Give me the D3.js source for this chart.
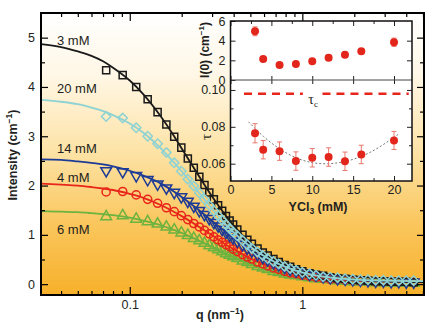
<!DOCTYPE html>
<html>
<head>
<meta charset="utf-8">
<script src="https://cdn.jsdelivr.net/npm/d3@7"></script>
<style>
  body { margin: 0; background: #fff; }
  svg { display: block; font-family: "Liberation Sans", Arial, sans-serif; }
</style>
</head>
<body>
<div id="chart"></div>
<script>
// measured q grid of the scattering curves (nm^-1)
const qMarks = [0.073, 0.091, 0.109, 0.127, 0.145, 0.163, 0.181, 0.199, 0.217, 0.235,
  0.253, 0.271, 0.289, 0.307, 0.325, 0.343, 0.361, 0.379, 0.397, 0.42, 0.45, 0.48,
  0.51, 0.55, 0.59, 0.63, 0.68, 0.73, 0.79, 0.85, 0.92, 1.0, 1.1, 1.2, 1.32, 1.45,
  1.6, 1.77, 1.96, 2.17, 2.4, 2.66, 2.95, 3.27, 3.62, 4.0, 4.42];

const i3mM = [4.34, 4.24, 4.0, 3.75, 3.49, 3.24, 2.99, 2.77, 2.55, 2.36, 2.18, 2.01,
  1.86, 1.72, 1.6, 1.49, 1.38, 1.29, 1.21, 1.11, 1.0, 0.9, 0.82, 0.72, 0.64, 0.58,
  0.51, 0.45, 0.39, 0.35, 0.3, 0.26, 0.22, 0.19, 0.17, 0.14, 0.12, 0.11, 0.09, 0.08,
  0.07, 0.06, 0.06, 0.05, 0.05, 0.05, 0.04];
const i20mM = [3.4, 3.37, 3.17, 3.0, 2.85, 2.67, 2.46, 2.29, 2.13, 1.99, 1.85, 1.72,
  1.6, 1.49, 1.39, 1.3, 1.21, 1.13, 1.06, 0.98, 0.89, 0.8, 0.73, 0.65, 0.58, 0.52,
  0.46, 0.41, 0.36, 0.32, 0.28, 0.24, 0.21, 0.18, 0.15, 0.14, 0.13, 0.11, 0.1, 0.09,
  0.09, 0.08, 0.08, 0.07, 0.07, 0.07, 0.07];
const i14mM = [2.3, 2.28, 2.2, 2.12, 2.03, 1.95, 1.86, 1.77, 1.68, 1.58, 1.49, 1.41,
  1.33, 1.25, 1.18, 1.11, 1.05, 0.99, 0.94, 0.87, 0.8, 0.73, 0.67, 0.6, 0.54, 0.49,
  0.43, 0.39, 0.34, 0.3, 0.27, 0.23, 0.2, 0.18, 0.15, 0.13, 0.11, 0.1, 0.09, 0.08,
  0.07, 0.06, 0.06, 0.05, 0.05, 0.04, 0.04];
const i4mM = [1.87, 1.88, 1.81, 1.72, 1.64, 1.55, 1.47, 1.39, 1.31, 1.23, 1.16, 1.09,
  1.02, 0.96, 0.9, 0.85, 0.8, 0.76, 0.71, 0.66, 0.6, 0.55, 0.51, 0.45, 0.41, 0.37,
  0.33, 0.3, 0.26, 0.23, 0.21, 0.18, 0.16, 0.14, 0.12, 0.1, 0.09, 0.08, 0.07, 0.06,
  0.06, 0.05, 0.05, 0.05, 0.04, 0.04, 0.04];
const i6mM = [1.37, 1.39, 1.32, 1.27, 1.22, 1.16, 1.1, 1.04, 0.99, 0.93, 0.88, 0.83,
  0.78, 0.74, 0.7, 0.66, 0.62, 0.59, 0.56, 0.52, 0.47, 0.44, 0.4, 0.36, 0.33, 0.3,
  0.26, 0.24, 0.21, 0.19, 0.17, 0.15, 0.13, 0.11, 0.1, 0.09, 0.07, 0.06, 0.05, 0.04,
  0.04, 0.03, 0.03, 0.03, 0.02, 0.02, 0.02];

// fitted curves
const qFit = [0.0306, 0.04, 0.05, 0.06, 0.07, 0.08, 0.1, 0.12, 0.15, 0.18, 0.2, 0.25,
  0.3, 0.35, 0.4, 0.5, 0.6, 0.7, 0.8, 1.0, 1.2, 1.5, 2, 3, 5.07];
const f3mM = [4.87, 4.81, 4.72, 4.63, 4.52, 4.39, 4.13, 3.85, 3.42, 3.01, 2.75, 2.21,
  1.78, 1.45, 1.19, 0.84, 0.62, 0.48, 0.38, 0.26, 0.19, 0.14, 0.09, 0.06, 0.04];
const f20mM = [3.74, 3.7, 3.65, 3.58, 3.51, 3.43, 3.26, 3.07, 2.77, 2.47, 2.29, 1.87,
  1.53, 1.26, 1.05, 0.76, 0.57, 0.44, 0.35, 0.24, 0.18, 0.13, 0.09, 0.07, 0.06];
const f14mM = [2.53, 2.52, 2.49, 2.46, 2.43, 2.39, 2.3, 2.2, 2.05, 1.88, 1.77, 1.51,
  1.28, 1.09, 0.93, 0.69, 0.53, 0.42, 0.34, 0.23, 0.18, 0.13, 0.08, 0.055, 0.04];
const f4mM = [2.04, 2.02, 2.0, 1.97, 1.94, 1.91, 1.83, 1.75, 1.61, 1.47, 1.38, 1.17,
  0.99, 0.83, 0.71, 0.52, 0.4, 0.32, 0.26, 0.18, 0.14, 0.1, 0.07, 0.05, 0.036];
const f6mM = [1.48, 1.47, 1.46, 1.44, 1.42, 1.4, 1.35, 1.29, 1.2, 1.1, 1.04, 0.89,
  0.76, 0.64, 0.55, 0.41, 0.32, 0.25, 0.21, 0.15, 0.11, 0.085, 0.06, 0.044, 0.035];

const seriesLabels = ["6 mM", "4 mM", "14 mM", "3 mM", "20 mM"];

// inset
const conc = [3, 4, 6, 8, 10, 12, 14, 16, 20];
const i0 = [4.95, 2.14, 1.53, 1.63, 1.9, 2.27, 2.57, 2.92, 3.84];
const i0Err = [0.45, 0.15, 0.12, 0.12, 0.12, 0.12, 0.12, 0.15, 0.42];
const tau = [0.0765, 0.0676, 0.0668, 0.0614, 0.0632, 0.0636, 0.0613, 0.065, 0.0726];
const tauErr = [0.0052, 0.005, 0.005, 0.005, 0.005, 0.005, 0.005, 0.005, 0.0049];
const tauC = 0.098;
const tauFitX = [2.2, 4, 6, 8, 10, 12, 14, 16, 18, 20.6];
const tauFitY = [0.0827, 0.0746, 0.0677, 0.0629, 0.0602, 0.0597, 0.0609, 0.0637, 0.0681, 0.0762];

const xMajor = [0.1, 1];
const xMinor = [0.04, 0.05, 0.06, 0.07, 0.08, 0.09, 0.2, 0.3, 0.4, 0.5, 0.6, 0.7, 0.8, 0.9, 2, 3, 4, 5];
const yMajor = [0, 1, 2, 3, 4, 5];
const yMinor = [0.5, 1.5, 2.5, 3.5, 4.5];

const width = 436, height = 328;
const area = { left: 41, right: 424, top: 13, bottom: 295 };

const svg = d3.select("#chart").append("svg")
  .attr("width", width).attr("height", height);

const defs = svg.append("defs");
const grad = defs.append("linearGradient").attr("id", "bg")
  .attr("gradientUnits", "userSpaceOnUse")
  .attr("x1", 0).attr("x2", 0).attr("y1", area.top).attr("y2", area.bottom);
[[0, "#ffffff"], [0.22, "#fff7e6"], [0.5, "#fde2a4"], [0.75, "#fac65c"], [1, "#f7b02a"]]
  .forEach(([o, c]) => grad.append("stop").attr("offset", o).attr("stop-color", c));

defs.append("clipPath").attr("id", "clip").append("rect")
  .attr("x", area.left).attr("y", area.top)
  .attr("width", area.right - area.left).attr("height", area.bottom - area.top);

svg.append("rect")
  .attr("x", area.left).attr("y", area.top)
  .attr("width", area.right - area.left).attr("height", area.bottom - area.top)
  .attr("fill", "url(#bg)");

const x = d3.scaleLog().domain([0.0306, 5.07]).range([area.left, area.right]);
const y = d3.scaleLinear().domain([-0.22, 5.5]).range([area.bottom, area.top]);

// series, drawn bottom to top
const series = [
  { label: seriesLabels[0], marks: i6mM, fit: f6mM, color: "#6cb33f", shape: "triUp" },
  { label: seriesLabels[1], marks: i4mM, fit: f4mM, color: "#e8251b", shape: "circle" },
  { label: seriesLabels[2], marks: i14mM, fit: f14mM, color: "#1d3b96", shape: "triDown" },
  { label: seriesLabels[3], marks: i3mM, fit: f3mM, color: "#1a1a1a", shape: "square" },
  { label: seriesLabels[4], marks: i20mM, fit: f20mM, color: "#8ed2d4", shape: "diamond" },
];

const shapes = {
  square: { type: d3.symbolSquare, size: 50, rot: 0 },
  diamond: { type: d3.symbolSquare, size: 44, rot: 45 },
  circle: { type: d3.symbolCircle, size: 52, rot: 0 },
  triUp: { type: d3.symbolTriangle, size: 50, rot: 0 },
  triDown: { type: d3.symbolTriangle, size: 50, rot: 180 },
};

const plot = svg.append("g").attr("clip-path", "url(#clip)");
const line = d3.line().x((d) => x(d[0])).y((d) => y(d[1])).curve(d3.curveMonotoneX);

series.forEach((s) => {
  const sh = shapes[s.shape];
  const sym = d3.symbol().type(sh.type).size(sh.size);
  plot.append("g").selectAll("path")
    .data(qMarks.map((q, i) => [q, s.marks[i]]))
    .join("path")
    .attr("d", sym)
    .attr("transform", (d) => `translate(${x(d[0])},${y(d[1])}) rotate(${sh.rot})`)
    .attr("fill", "none")
    .attr("stroke", s.color)
    .attr("stroke-width", 1.5);
  plot.append("path")
    .datum(qFit.map((q, i) => [q, s.fit[i]]))
    .attr("d", line)
    .attr("fill", "none")
    .attr("stroke", s.color)
    .attr("stroke-width", 1.8);
});

// series labels
const labelY = { "3 mM": 4.95, "20 mM": 3.97, "14 mM": 2.76, "4 mM": 2.17, "6 mM": 1.1 };
svg.append("g").selectAll("text")
  .data(seriesLabels)
  .join("text")
  .attr("x", 57)
  .attr("y", (d) => y(labelY[d]))
  .attr("dy", "0.35em")
  .attr("font-size", 13)
  .attr("fill", "#231f20")
  .text((d) => d);

// axes, ticks inward
function styleAxis(g) {
  g.select(".domain").remove();
  g.selectAll("line").attr("stroke", "#000").attr("stroke-width", 1.2);
  g.selectAll("text").attr("font-size", 12.5).attr("fill", "#231f20")
    .attr("font-family", "Liberation Sans, Arial, sans-serif");
}
svg.append("g").attr("transform", `translate(0,${area.bottom})`)
  .call(d3.axisBottom(x).tickValues(xMajor).tickSize(-8).tickPadding(5).tickFormat(d3.format("")))
  .call(styleAxis);
svg.append("g").attr("transform", `translate(0,${area.bottom})`)
  .call(d3.axisBottom(x).tickValues(xMinor).tickSize(-4).tickFormat(""))
  .call(styleAxis);
svg.append("g").attr("transform", `translate(0,${area.top})`)
  .call(d3.axisTop(x).tickValues(xMajor).tickSize(-8).tickFormat(""))
  .call(styleAxis);
svg.append("g").attr("transform", `translate(0,${area.top})`)
  .call(d3.axisTop(x).tickValues(xMinor).tickSize(-4).tickFormat(""))
  .call(styleAxis);
svg.append("g").attr("transform", `translate(${area.left},0)`)
  .call(d3.axisLeft(y).tickValues(yMajor).tickSize(-7).tickPadding(6).tickFormat(d3.format("d")))
  .call(styleAxis);
svg.append("g").attr("transform", `translate(${area.left},0)`)
  .call(d3.axisLeft(y).tickValues(yMinor).tickSize(-4).tickFormat(""))
  .call(styleAxis);
svg.append("g").attr("transform", `translate(${area.right},0)`)
  .call(d3.axisRight(y).tickValues(yMajor).tickSize(-7).tickFormat(""))
  .call(styleAxis);
svg.append("g").attr("transform", `translate(${area.right},0)`)
  .call(d3.axisRight(y).tickValues(yMinor).tickSize(-4).tickFormat(""))
  .call(styleAxis);

svg.append("rect")
  .attr("x", area.left).attr("y", area.top)
  .attr("width", area.right - area.left).attr("height", area.bottom - area.top)
  .attr("fill", "none").attr("stroke", "#000").attr("stroke-width", 2);

// axis titles
const xt = svg.append("text").attr("x", 220).attr("y", 319)
  .attr("text-anchor", "middle").attr("font-size", 12.5).attr("font-weight", "bold")
  .attr("fill", "#231f20");
xt.append("tspan").text("q (nm");
xt.append("tspan").attr("dy", -5).attr("font-size", 8.5).text("\u22121");
xt.append("tspan").attr("dy", 5).text(")");

const yt = svg.append("text").attr("transform", "translate(17,155) rotate(-90)")
  .attr("text-anchor", "middle").attr("font-size", 12.5).attr("font-weight", "bold")
  .attr("fill", "#231f20");
yt.append("tspan").text("Intensity (cm");
yt.append("tspan").attr("dy", -5).attr("font-size", 8.5).text("\u22121");
yt.append("tspan").attr("dy", 5).text(")");

// ---------- inset ----------
const ins = { left: 230.5, right: 412, top: 21, mid: 80, bottom: 181 };
const ix = d3.scaleLinear().domain([0, 22.2]).range([ins.left, ins.right]);
const iyTop = d3.scaleLinear().domain([0, 6]).range([ins.mid, ins.top]);
const iyBot = d3.scaleLinear().domain([0.0506, 0.1054]).range([ins.bottom, ins.mid]);

const inset = svg.append("g");
inset.append("rect")
  .attr("x", ins.left).attr("y", ins.top)
  .attr("width", ins.right - ins.left).attr("height", ins.bottom - ins.top)
  .attr("fill", "#fff");

function insetAxis(g) {
  g.select(".domain").remove();
  g.selectAll("line").attr("stroke", "#222").attr("stroke-width", 1);
  g.selectAll("text").attr("font-size", 12.5).attr("fill", "#231f20")
    .attr("font-family", "Liberation Sans, Arial, sans-serif");
}
const ixMajor = [0, 5, 10, 15, 20];
const ixMinor = [2.5, 7.5, 12.5, 17.5];
inset.append("g").attr("transform", `translate(0,${ins.bottom})`)
  .call(d3.axisBottom(ix).tickValues(ixMajor).tickSize(-5).tickPadding(4)).call(insetAxis);
inset.append("g").attr("transform", `translate(0,${ins.bottom})`)
  .call(d3.axisBottom(ix).tickValues(ixMinor).tickSize(-3).tickFormat("")).call(insetAxis);
inset.append("g").attr("transform", `translate(0,${ins.top})`)
  .call(d3.axisTop(ix).tickValues(ixMajor).tickSize(-5).tickFormat("")).call(insetAxis);
inset.append("g").attr("transform", `translate(0,${ins.top})`)
  .call(d3.axisTop(ix).tickValues(ixMinor).tickSize(-3).tickFormat("")).call(insetAxis);
inset.append("g").attr("transform", `translate(0,${ins.mid})`)
  .call(d3.axisTop(ix).tickValues(ixMajor).tickSize(4).tickFormat("")).call(insetAxis);
inset.append("g").attr("transform", `translate(0,${ins.mid})`)
  .call(d3.axisBottom(ix).tickValues(ixMajor).tickSize(4).tickFormat("")).call(insetAxis);

inset.append("g").attr("transform", `translate(${ins.left},0)`)
  .call(d3.axisLeft(iyTop).tickValues([0, 2, 4, 6]).tickSize(-5).tickPadding(5)
    .tickFormat(d3.format("d"))).call(insetAxis);
inset.append("g").attr("transform", `translate(${ins.right},0)`)
  .call(d3.axisRight(iyTop).tickValues([2, 4]).tickSize(-5).tickFormat("")).call(insetAxis);
inset.append("g").attr("transform", `translate(${ins.left},0)`)
  .call(d3.axisLeft(iyBot).tickValues([0.06, 0.08, 0.1]).tickSize(-5).tickPadding(5)
    .tickFormat(d3.format(".2f"))).call(insetAxis);
inset.append("g").attr("transform", `translate(${ins.left},0)`)
  .call(d3.axisLeft(iyBot).tickValues([0.07, 0.09]).tickSize(-3).tickFormat("")).call(insetAxis);
inset.append("g").attr("transform", `translate(${ins.right},0)`)
  .call(d3.axisRight(iyBot).tickValues([0.06, 0.08, 0.1]).tickSize(-5).tickFormat("")).call(insetAxis);
inset.append("g").attr("transform", `translate(${ins.right},0)`)
  .call(d3.axisRight(iyBot).tickValues([0.07, 0.09]).tickSize(-3).tickFormat("")).call(insetAxis);

inset.append("line")
  .attr("x1", ins.left).attr("x2", ins.right).attr("y1", ins.mid).attr("y2", ins.mid)
  .attr("stroke", "#444").attr("stroke-width", 1);

inset.append("rect")
  .attr("x", ins.left).attr("y", ins.top)
  .attr("width", ins.right - ins.left).attr("height", ins.bottom - ins.top)
  .attr("fill", "none").attr("stroke", "#111").attr("stroke-width", 1.5);

// tau_c dashed line, broken for its label
[[1.65, 8.85], [11.25, 21.8]].forEach(([a, b]) => {
  inset.append("line")
    .attr("x1", ix(a)).attr("x2", ix(b)).attr("y1", iyBot(tauC)).attr("y2", iyBot(tauC))
    .attr("stroke", "#e8251b").attr("stroke-width", 2.5).attr("stroke-dasharray", "8,6");
});
const tc = inset.append("text").attr("x", ix(10.1)).attr("y", iyBot(tauC) + 10)
  .attr("text-anchor", "middle").attr("font-size", 14)
  .attr("font-family", "Liberation Serif, serif").attr("fill", "#231f20");
tc.append("tspan").text("\u03c4");
tc.append("tspan").attr("dy", 3).attr("font-size", 9).text("c");

// fit of tau
inset.append("path")
  .datum(tauFitX.map((v, i) => [v, tauFitY[i]]))
  .attr("d", d3.line().x((d) => ix(d[0])).y((d) => iyBot(d[1])).curve(d3.curveBasis))
  .attr("fill", "none").attr("stroke", "#777").attr("stroke-width", 1)
  .attr("stroke-dasharray", "2,2");

function errorPoints(vals, errs, sc) {
  const g = inset.append("g");
  const pts = conc.map((c, i) => ({ c, v: vals[i], e: errs[i] }));
  g.selectAll("line.bar").data(pts).join("line").attr("class", "bar")
    .attr("x1", (d) => ix(d.c)).attr("x2", (d) => ix(d.c))
    .attr("y1", (d) => sc(d.v - d.e)).attr("y2", (d) => sc(d.v + d.e))
    .attr("stroke", "#e9786c").attr("stroke-width", 1);
  [-1, 1].forEach((sgn) => {
    g.selectAll(null).data(pts).join("line")
      .attr("x1", (d) => ix(d.c) - 2.5).attr("x2", (d) => ix(d.c) + 2.5)
      .attr("y1", (d) => sc(d.v + sgn * d.e)).attr("y2", (d) => sc(d.v + sgn * d.e))
      .attr("stroke", "#e9786c").attr("stroke-width", 1);
  });
  g.selectAll("circle").data(pts).join("circle")
    .attr("cx", (d) => ix(d.c)).attr("cy", (d) => sc(d.v)).attr("r", 4)
    .attr("fill", "#e3261c");
}
errorPoints(i0, i0Err, iyTop);
errorPoints(tau, tauErr, iyBot);

// inset titles
const it = svg.append("text").attr("transform", "translate(209,50) rotate(-90)")
  .attr("text-anchor", "middle").attr("font-size", 12).attr("font-weight", "bold")
  .attr("fill", "#231f20");
it.append("tspan").text("I(0) (cm");
it.append("tspan").attr("dy", -5).attr("font-size", 8).text("\u22121");
it.append("tspan").attr("dy", 5).text(")");

svg.append("text").attr("transform", "translate(211,137) rotate(-90)")
  .attr("text-anchor", "middle").attr("font-size", 15)
  .attr("font-family", "Liberation Serif, serif").attr("fill", "#231f20")
  .text("\u03c4");

const ct = svg.append("text").attr("x", 318).attr("y", 211)
  .attr("text-anchor", "middle").attr("font-size", 12.5).attr("font-weight", "bold")
  .attr("fill", "#231f20");
ct.append("tspan").text("YCl");
ct.append("tspan").attr("dy", 3).attr("font-size", 8.5).text("3");
ct.append("tspan").attr("dy", -3).text(" (mM)");
</script>
</body>
</html>
